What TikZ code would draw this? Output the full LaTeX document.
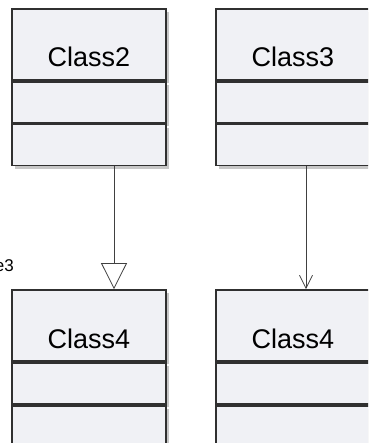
\documentclass[tikz,border=0pt]{standalone}
\usepackage{fontspec}
\setmainfont{Liberation Sans}
\usetikzlibrary{arrows.meta,shadows}
\definecolor{fond}{HTML}{F0F1F5}
\definecolor{bordure}{HTML}{303030}
\definecolor{trait}{HTML}{404040}

\begin{document}
\begin{tikzpicture}[x=1pt, y=-1pt]
\tikzset{classe/.style={draw=bordure, fill=fond, line width=1.8pt, minimum width=154pt, inner sep=0pt,
    drop shadow={shadow xshift=3pt, shadow yshift=-3pt, fill=black!22, opacity=1}},
  nom/.style={classe, text height=58pt, text depth=13pt, font=\fontsize{27}{27}\selectfont},
  compart/.style={classe, minimum height=41pt, anchor=north}}
\clip (0, 0) rectangle (368, 443);
\useasboundingbox (0, 0) rectangle (368, 443);
\node[nom] (C2) at (89, 44.5) {Class2};
\node[compart] (C2a) at (C2.south) {};
\node[compart] (C2o) at (C2a.south) {};
\node[nom] (C3) at (293, 44.5) {Class3};
\node[compart] (C3a) at (C3.south) {};
\node[compart] (C3o) at (C3a.south) {};
\node[nom] (C4) at (89, 325.5) {Class4};
\node[compart] (C4a) at (C4.south) {};
\node[compart] (C4o) at (C4a.south) {};
\node[nom] (C4b) at (293, 325.5) {Class4};
\node[compart] (C4ba) at (C4b.south) {};
\node[compart] (C4bo) at (C4ba.south) {};
\node[anchor=base east, inner sep=0pt, font=\fontsize{17}{17}\selectfont] (role) at (14, 271) {e3};
\draw[trait, line width=0.8pt, -{Triangle[open, length=26pt, width=26pt, fill=white]}]
  ([xshift=25pt]C2o.south) -- ([xshift=25pt]C4.north);
\draw[trait, line width=0.8pt, -{Straight Barb[length=13pt, width=13pt]}]
  ([xshift=13pt]C3o.south) -- ([xshift=13pt]C4b.north);
\end{tikzpicture}
\end{document}
